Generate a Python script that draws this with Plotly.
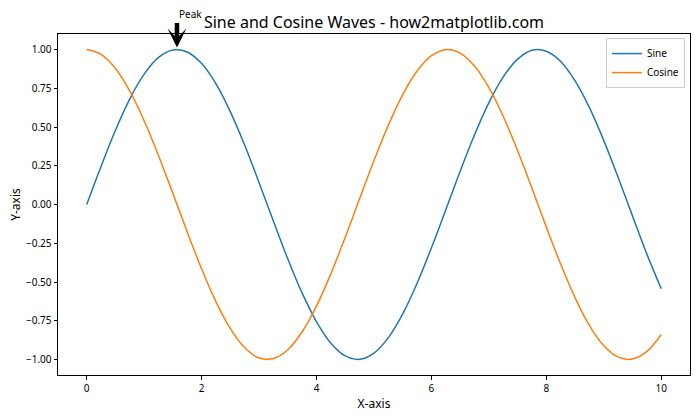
import plotly.graph_objects as go

# Values (x step 0.25)
x_vals = [0.0, 0.25, 0.5, 0.75, 1.0, 1.25, 1.5, 1.75, 2.0, 2.25, 2.5, 2.75, 3.0, 3.25,
          3.5, 3.75, 4.0, 4.25, 4.5, 4.75, 5.0, 5.25, 5.5, 5.75, 6.0, 6.25, 6.5, 6.75,
          7.0, 7.25, 7.5, 7.75, 8.0, 8.25, 8.5, 8.75, 9.0, 9.25, 9.5, 9.75, 10.0]
sine_vals = [0.0, 0.247, 0.479, 0.682, 0.841, 0.949, 0.997, 0.984, 0.909, 0.778, 0.598,
             0.382, 0.141, -0.108, -0.351, -0.572, -0.757, -0.895, -0.977, -0.999, -0.959,
             -0.859, -0.706, -0.508, -0.279, -0.033, 0.215, 0.450, 0.657, 0.823, 0.938,
             0.995, 0.989, 0.923, 0.798, 0.625, 0.412, 0.174, -0.075, -0.320, -0.544]
cosine_vals = [1.0, 0.969, 0.878, 0.732, 0.540, 0.315, 0.071, -0.178, -0.416, -0.628, -0.801,
               -0.924, -0.990, -0.994, -0.937, -0.821, -0.654, -0.446, -0.211, 0.038, 0.284,
               0.512, 0.709, 0.861, 0.960, 0.999, 0.977, 0.893, 0.754, 0.568, 0.347,
               0.104, -0.146, -0.386, -0.602, -0.781, -0.911, -0.985, -0.997, -0.948, -0.839]
series_names = ["Sine", "Cosine"]
series_colors = ["#1f77b4", "#ff7f0e"]
x_ticks = [0, 2, 4, 6, 8, 10]
y_ticks = [1.0, 0.75, 0.5, 0.25, 0.0, -0.25, -0.5, -0.75, -1.0]
y_tick_labels = ["1.00", "0.75", "0.50", "0.25", "0.00", "\u22120.25", "\u22120.50", "\u22120.75", "\u22121.00"]
peak_x = 1.5708
peak_y = 1.0
peak_label = "Peak"
title_text = "Sine and Cosine Waves - how2matplotlib.com"

FONT = "Noto Sans"

fig = go.Figure()
for name, vals, col in zip(series_names, [sine_vals, cosine_vals], series_colors):
    fig.add_trace(go.Scatter(x=x_vals, y=vals, mode="lines", name=name,
                             line=dict(color=col, width=1.5, shape="spline")))

axis_common = dict(showline=True, linecolor="black", linewidth=1, mirror=True,
                   ticks="outside", ticklen=3.5, tickwidth=0.8, tickcolor="black",
                   showgrid=False, zeroline=False,
                   tickfont=dict(family=FONT, size=10, color="black"))

fig.update_xaxes(range=[-0.5, 10.5], tickvals=x_ticks, **axis_common,
                 title=dict(text="X-axis", font=dict(family=FONT, size=12, color="black"), standoff=6))
fig.update_yaxes(range=[-1.1, 1.1], tickvals=y_ticks, ticktext=y_tick_labels, **axis_common,
                 title=dict(text="Y-axis", font=dict(family=FONT, size=12, color="black"), standoff=2))

fig.add_annotation(x=peak_x, y=peak_y, ax=0, ay=-28, axref="pixel", ayref="pixel",
                   text="", showarrow=True, arrowhead=3, arrowwidth=4.5, arrowsize=0.7,
                   arrowcolor="black", standoff=2)
fig.add_annotation(x=peak_x, y=1.06, yref="paper", text=peak_label, showarrow=False,
                   xanchor="left", yanchor="middle",
                   font=dict(family=FONT, size=10, color="black"))

fig.update_layout(
    width=700, height=420,
    margin=dict(l=58, r=10, t=34, b=45),
    paper_bgcolor="white", plot_bgcolor="white",
    font=dict(family=FONT, color="black"),
    title=dict(text=title_text, x=0.5, xref="paper", y=1 - 22 / 420, yref="container",
               xanchor="center", yanchor="middle",
               font=dict(family=FONT, size=16, color="black")),
    legend=dict(x=0.992, y=0.988, xanchor="right", yanchor="top",
                bordercolor="#cccccc", borderwidth=1, bgcolor="white",
                font=dict(family=FONT, size=10, color="black"),
                itemwidth=30, tracegroupgap=0),
    showlegend=True,
)

fig.write_html("out.html")
